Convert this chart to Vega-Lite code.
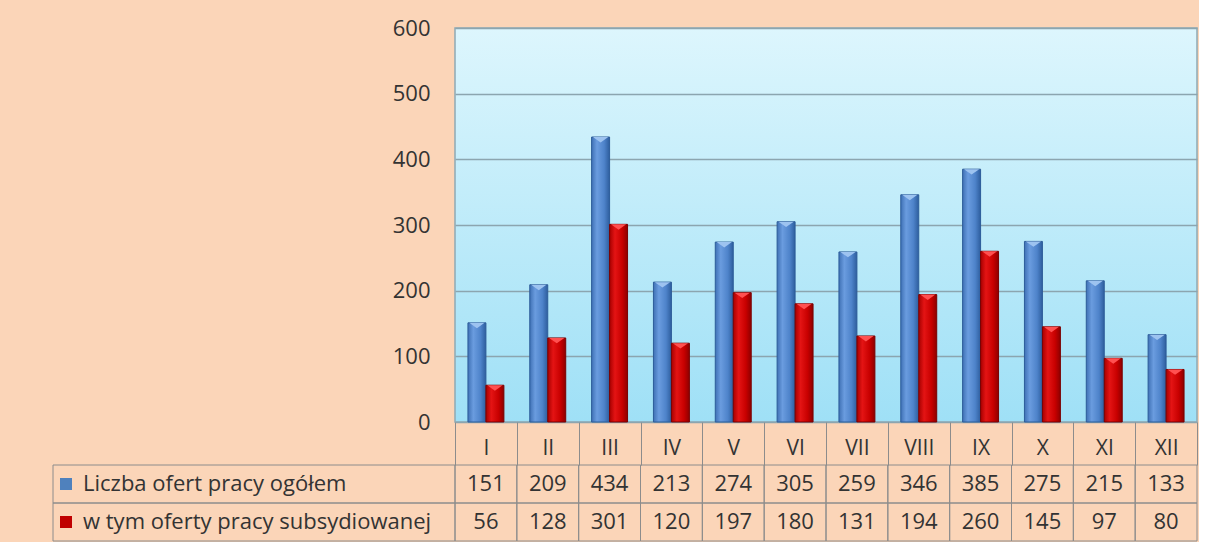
{
  "$schema": "https://vega.github.io/schema/vega-lite/v6.json",
  "background": "#FBD5B8",
  "padding": {"left": 52, "top": 16, "right": 0, "bottom": 0},
  "autosize": {"type": "pad"},
  "config": {
    "view": {"stroke": null},
    "font": "Open Sans",
    "text": {"font": "Open Sans"},
    "axis": {"labelFont": "Open Sans"},
    "legend": {"labelFont": "Open Sans"}
  },
  "datasets": {
    "d": [
      {"month": "I", "series": "Liczba ofert pracy ogółem", "value": 151},
      {"month": "II", "series": "Liczba ofert pracy ogółem", "value": 209},
      {"month": "III", "series": "Liczba ofert pracy ogółem", "value": 434},
      {"month": "IV", "series": "Liczba ofert pracy ogółem", "value": 213},
      {"month": "V", "series": "Liczba ofert pracy ogółem", "value": 274},
      {"month": "VI", "series": "Liczba ofert pracy ogółem", "value": 305},
      {"month": "VII", "series": "Liczba ofert pracy ogółem", "value": 259},
      {"month": "VIII", "series": "Liczba ofert pracy ogółem", "value": 346},
      {"month": "IX", "series": "Liczba ofert pracy ogółem", "value": 385},
      {"month": "X", "series": "Liczba ofert pracy ogółem", "value": 275},
      {"month": "XI", "series": "Liczba ofert pracy ogółem", "value": 215},
      {"month": "XII", "series": "Liczba ofert pracy ogółem", "value": 133},
      {"month": "I", "series": "w tym oferty pracy subsydiowanej", "value": 56},
      {"month": "II", "series": "w tym oferty pracy subsydiowanej", "value": 128},
      {"month": "III", "series": "w tym oferty pracy subsydiowanej", "value": 301},
      {"month": "IV", "series": "w tym oferty pracy subsydiowanej", "value": 120},
      {"month": "V", "series": "w tym oferty pracy subsydiowanej", "value": 197},
      {"month": "VI", "series": "w tym oferty pracy subsydiowanej", "value": 180},
      {"month": "VII", "series": "w tym oferty pracy subsydiowanej", "value": 131},
      {"month": "VIII", "series": "w tym oferty pracy subsydiowanej", "value": 194},
      {"month": "IX", "series": "w tym oferty pracy subsydiowanej", "value": 260},
      {"month": "X", "series": "w tym oferty pracy subsydiowanej", "value": 145},
      {"month": "XI", "series": "w tym oferty pracy subsydiowanej", "value": 97},
      {"month": "XII", "series": "w tym oferty pracy subsydiowanej", "value": 80}
    ]
  },
  "data": {"name": "d"},
  "columns": 2,
  "spacing": {"row": 43, "column": 0},
  "bounds": "flush",
  "resolve": {"scale": {"x": "independent", "y": "independent", "color": "independent", "fill": "independent", "xOffset": "independent"}},
  "concat": [
    {
      "width": 402,
      "height": 394,
      "data": {"values": []},
      "mark": {"type": "point", "opacity": 0},
      "encoding": {}
    },
    {
      "width": 742,
      "height": 394,
      "view": {
        "stroke": "#8FA9B4",
        "strokeWidth": 1.5,
        "fill": {
          "gradient": "linear", "x1": 0, "y1": 0, "x2": 0, "y2": 1,
          "stops": [
            {"offset": 0, "color": "#DDF6FD"},
            {"offset": 1, "color": "#9FE0F6"}
          ]
        }
      },
      "encoding": {
        "x": {
          "field": "month", "type": "nominal",
          "sort": ["I", "II", "III", "IV", "V", "VI", "VII", "VIII", "IX", "X", "XI", "XII"],
          "scale": {"paddingInner": 0, "paddingOuter": 0},
          "axis": {
            "title": null, "domain": false, "ticks": true, "tickBand": "extent",
            "tickSize": 43, "tickColor": "#8C8C8C", "tickWidth": 1,
            "labelPadding": -17, "labelBaseline": "middle", "labelAngle": 0,
            "labelFontSize": 21, "labelColor": "#333333", "grid": false
          }
        },
        "xOffset": {
          "field": "series", "type": "nominal",
          "scale": {"domain": ["Liczba ofert pracy ogółem", "w tym oferty pracy subsydiowanej"], "paddingInner": 0, "paddingOuter": 0.72}
        },
        "y": {
          "field": "value", "type": "quantitative",
          "scale": {"domain": [0, 600], "nice": false},
          "axis": {
            "title": null, "values": [0, 100, 200, 300, 400, 500, 600],
            "domain": false, "ticks": false, "labelPadding": 25,
            "labelFontSize": 22, "labelColor": "#333333",
            "grid": true, "gridColor": "#8CA5AF", "gridWidth": 1.5
          }
        }
      },
      "layer": [
        {
          "transform": [{"filter": "datum.series == 'Liczba ofert pracy ogółem'"}],
          "mark": {
            "type": "bar", "stroke": "#2C5C99", "strokeWidth": 1,
            "fill": {
              "gradient": "linear", "x1": 0, "y1": 0, "x2": 1, "y2": 0,
              "stops": [
                {"offset": 0, "color": "#3F71B5"},
                {"offset": 0.3, "color": "#6A9CDF"},
                {"offset": 0.7, "color": "#4E83CA"},
                {"offset": 1, "color": "#2E5E9E"}
              ]
            }
          }
        },
        {
          "transform": [{"filter": "datum.series == 'w tym oferty pracy subsydiowanej'"}],
          "mark": {
            "type": "bar", "stroke": "#7A0000", "strokeWidth": 1,
            "fill": {
              "gradient": "linear", "x1": 0, "y1": 0, "x2": 1, "y2": 0,
              "stops": [
                {"offset": 0, "color": "#A80000"},
                {"offset": 0.3, "color": "#E41414"},
                {"offset": 0.7, "color": "#C80000"},
                {"offset": 1, "color": "#8E0000"}
              ]
            }
          }
        },
        {
          "mark": {"type": "point", "filled": true, "shape": "M -0.85 0 L 0.85 0 L 0 0.6 Z", "size": 324, "opacity": 1, "strokeWidth": 0},
          "encoding": {
            "fill": {
              "field": "series", "type": "nominal",
              "scale": {"domain": ["Liczba ofert pracy ogółem", "w tym oferty pracy subsydiowanej"], "range": ["#9DC3F0", "#FF5050"]},
              "legend": null
            }
          }
        }
      ]
    },
    {
      "width": 402,
      "height": 76,
      "transform": [{"filter": "datum.month == 'I'"}],
      "encoding": {
        "y": {
          "field": "series", "type": "nominal",
          "sort": ["Liczba ofert pracy ogółem", "w tym oferty pracy subsydiowanej"],
          "scale": {"paddingInner": 0, "paddingOuter": 0},
          "axis": null
        }
      },
      "layer": [
        {"mark": {"type": "rect", "filled": false, "stroke": "#8C8C8C", "strokeWidth": 1}},
        {
          "mark": {"type": "point", "shape": "square", "filled": true, "opacity": 0},
          "encoding": {
            "color": {
              "field": "series", "type": "nominal",
              "scale": {"domain": ["Liczba ofert pracy ogółem", "w tym oferty pracy subsydiowanej"], "range": ["#4F81BD", "#C00000"]},
              "legend": {
                "title": null, "orient": "none", "legendX": 2, "legendY": 8, "padding": 0,
                "symbolType": "square", "symbolSize": 144, "symbolOpacity": 1, "symbolStrokeWidth": 0,
                "labelFontSize": 22, "labelColor": "#333333", "labelOffset": 6,
                "rowPadding": 16, "labelLimit": 0
              }
            }
          }
        }
      ]
    },
    {
      "width": 742,
      "height": 76,
      "encoding": {
        "x": {
          "field": "month", "type": "nominal",
          "sort": ["I", "II", "III", "IV", "V", "VI", "VII", "VIII", "IX", "X", "XI", "XII"],
          "scale": {"paddingInner": 0, "paddingOuter": 0},
          "axis": null
        },
        "y": {
          "field": "series", "type": "nominal",
          "sort": ["Liczba ofert pracy ogółem", "w tym oferty pracy subsydiowanej"],
          "scale": {"paddingInner": 0, "paddingOuter": 0},
          "axis": null
        }
      },
      "layer": [
        {"mark": {"type": "rect", "filled": false, "stroke": "#8C8C8C", "strokeWidth": 1}},
        {
          "mark": {"type": "text", "fontSize": 22, "color": "#333333"},
          "encoding": {"text": {"field": "value", "type": "quantitative"}}
        }
      ]
    }
  ]
}
